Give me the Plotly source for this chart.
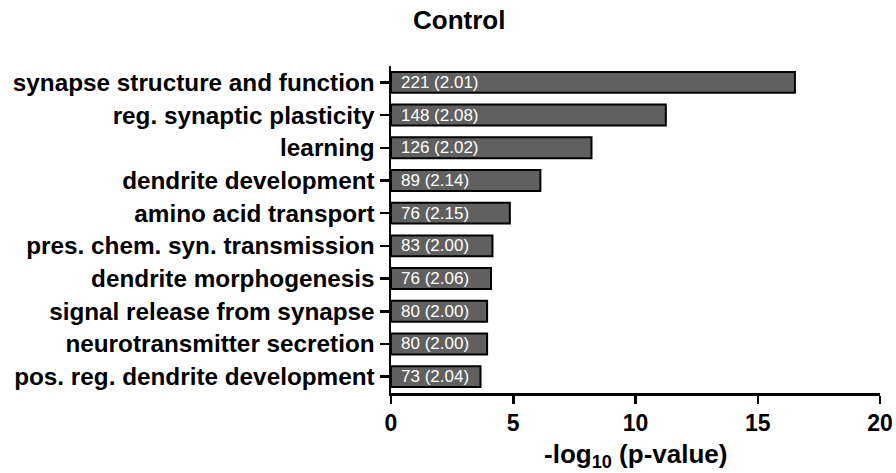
import plotly.graph_objects as go

categories = [
    "synapse structure and function",
    "reg. synaptic plasticity",
    "learning",
    "dendrite development",
    "amino acid transport",
    "pres. chem. syn. transmission",
    "dendrite morphogenesis",
    "signal release from synapse",
    "neurotransmitter secretion",
    "pos. reg. dendrite development",
]
neg_log10_p = [16.52, 11.24, 8.2, 6.11, 4.86, 4.15, 4.09, 3.93, 3.93, 3.66]
gene_counts = [221, 148, 126, 89, 76, 83, 76, 80, 80, 73]
fold_enrichment = ["2.01", "2.08", "2.02", "2.14", "2.15", "2.00", "2.06", "2.00", "2.00", "2.04"]
x_ticks = [0, 5, 10, 15, 20]

FONT = "Arial, 'Liberation Sans', sans-serif"
W, H = 896, 473
ML, MR, MT, MB = 391, 16, 66, 80
PW, PH = W - ML - MR, H - MT - MB


def px_x(x):
    return (x - ML) / PW


def px_y(y):
    return (H - MB - y) / PH


fig = go.Figure()
fig.add_trace(go.Bar(
    x=neg_log10_p,
    y=categories,
    orientation="h",
    width=0.64,
    marker=dict(color="#606060", line=dict(color="black", width=2)),
    hoverinfo="skip",
))

for cat, n, fe in zip(categories, gene_counts, fold_enrichment):
    fig.add_annotation(
        x=0, y=cat, xref="x", yref="y",
        text=f"{n} ({fe})",
        showarrow=False, xanchor="left", yanchor="middle", xshift=8,
        font=dict(family=FONT, size=17, color="white"),
    )

fig.add_annotation(
    x=px_x(459), y=px_y(20), xref="paper", yref="paper",
    text="<b>Control</b>", showarrow=False, xanchor="center", yanchor="middle",
    font=dict(family=FONT, size=26, color="black"),
)
fig.add_annotation(
    x=px_x(635), y=px_y(455), xref="paper", yref="paper",
    text="<b>-log<sub>10</sub> (p-value)</b>", showarrow=False,
    xanchor="center", yanchor="middle",
    font=dict(family=FONT, size=26, color="black"),
)

fig.update_layout(
    width=W, height=H,
    margin=dict(l=ML, r=MR, t=MT, b=MB),
    plot_bgcolor="white", paper_bgcolor="white",
    showlegend=False,
    font=dict(family=FONT, color="black"),
)

fig.update_xaxes(
    range=[0, 20], tickvals=x_ticks, ticktext=[str(v) for v in x_ticks],
    showline=True, linecolor="black", linewidth=2.5,
    ticks="outside", ticklen=8, tickwidth=2.5, tickcolor="black",
    showgrid=False, zeroline=False, automargin=False,
    tickfont=dict(family=FONT, size=23, color="black", weight="bold"),
)
fig.update_yaxes(
    categoryorder="array", categoryarray=categories,
    range=[9.5, -0.5],
    showline=True, linecolor="black", linewidth=2.5,
    ticks="outside", ticklen=9, tickwidth=2.5, tickcolor="black",
    showgrid=False, zeroline=False, automargin=False,
    tickfont=dict(family=FONT, size=24.3, color="black", weight="bold"),
)

fig.write_html(
    "out.html",
    config={"displayModeBar": False, "staticPlot": True},
    post_script="document.body.style.margin='0';document.body.style.overflow='hidden';",
)
